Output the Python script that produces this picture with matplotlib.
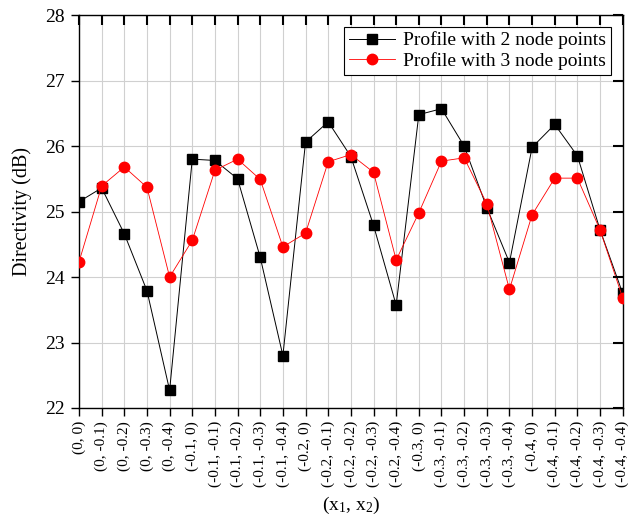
import matplotlib
matplotlib.use('Agg')
import matplotlib.pyplot as plt
from matplotlib.markers import TICKDOWN, TICKLEFT
from matplotlib.transforms import blended_transform_factory
import numpy as np

plt.rcParams['font.family'] = ['Liberation Serif', 'DejaVu Serif']
plt.rcParams['mathtext.fontset'] = 'custom'
plt.rcParams['mathtext.rm'] = 'Liberation Serif'
plt.rcParams['mathtext.it'] = 'Liberation Serif:italic'

# (x1, x2) node offsets
categories = [
    '(0, 0)', '(0, -0.1)', '(0, -0.2)', '(0, -0.3)', '(0, -0.4)',
    '(-0.1, 0)', '(-0.1, -0.1)', '(-0.1, -0.2)', '(-0.1, -0.3)', '(-0.1, -0.4)',
    '(-0.2, 0)', '(-0.2, -0.1)', '(-0.2, -0.2)', '(-0.2, -0.3)', '(-0.2, -0.4)',
    '(-0.3, 0)', '(-0.3, -0.1)', '(-0.3, -0.2)', '(-0.3, -0.3)', '(-0.3, -0.4)',
    '(-0.4, 0)', '(-0.4, -0.1)', '(-0.4, -0.2)', '(-0.4, -0.3)', '(-0.4, -0.4)',
]

# directivity in dB
two_nodes = [25.15, 25.36, 24.66, 23.79, 22.27,
             25.80, 25.78, 25.50, 24.30, 22.80,
             26.06, 26.37, 25.84, 24.79, 23.57,
             26.48, 26.57, 26.00, 25.06, 24.22,
             25.98, 26.33, 25.85, 24.72, 23.75]
three_nodes = [24.23, 25.39, 25.68, 25.37, 24.00,
               24.56, 25.63, 25.80, 25.49, 24.46,
               24.67, 25.76, 25.87, 25.60, 24.26,
               24.98, 25.77, 25.82, 25.12, 23.81,
               24.95, 25.51, 25.51, 24.72, 23.68]

x = np.arange(len(categories))
yticks = np.arange(22, 29, 1)

fig = plt.figure(figsize=(6.29, 5.2), dpi=100)
ax = fig.add_axes([0.1256, 0.2154, 0.8644, 0.7556])

ax.plot(x, two_nodes, '-', color='black', lw=0.7, marker='s', markersize=6.5,
        markerfacecolor='black', markeredgecolor='black',
        label='Profile with 2 node points', zorder=3)
ax.plot(x, three_nodes, '-', color='red', lw=0.6, marker='o', markersize=7.5,
        markerfacecolor='red', markeredgecolor='red',
        label='Profile with 3 node points', zorder=4)

ax.set_xlim(0, len(categories) - 1)
ax.set_ylim(22, 28)
ax.set_xticks(x)
ax.set_xticklabels(categories, rotation=90, fontsize=11)
ax.set_yticks(yticks)
ax.tick_params(axis='y', labelsize=14, direction='out', length=5.5, width=1, pad=5)
ax.tick_params(axis='x', direction='out', length=5.5, width=1, pad=4)
ax.grid(True, color='#d0d0d0', lw=0.8)
ax.set_axisbelow(True)

for sp in ax.spines.values():
    sp.set_linewidth(1.0)

# inward tick marks mirrored on the top and right spines
top_tr = blended_transform_factory(ax.transData, ax.transAxes)
ax.plot(x, np.ones(len(x)), transform=top_tr, linestyle='none',
        marker=TICKDOWN, markersize=7, markeredgewidth=1.5, color='black',
        clip_on=False, zorder=5)
right_tr = blended_transform_factory(ax.transAxes, ax.transData)
ax.plot(np.ones(len(yticks)), yticks, transform=right_tr, linestyle='none',
        marker=TICKLEFT, markersize=7, markeredgewidth=1.5, color='black',
        clip_on=False, zorder=5)

ax.set_ylabel('Directivity (dB)', fontsize=14.5, labelpad=9)
ax.set_xlabel(r'(x$_\mathregular{1}$, x$_\mathregular{2}$)', fontsize=14, labelpad=5)

leg = ax.legend(ax.get_lines()[:2], [l.get_label() for l in ax.get_lines()[:2]],
                loc='upper right', fontsize=14, frameon=True, fancybox=False,
                framealpha=1, edgecolor='black', borderpad=0.25,
                handlelength=2.4, handletextpad=0.4, labelspacing=0.15,
                borderaxespad=0.6)
leg.set_zorder(6)
leg.get_frame().set_linewidth(0.8)

fig.savefig('out.png', dpi=100)
